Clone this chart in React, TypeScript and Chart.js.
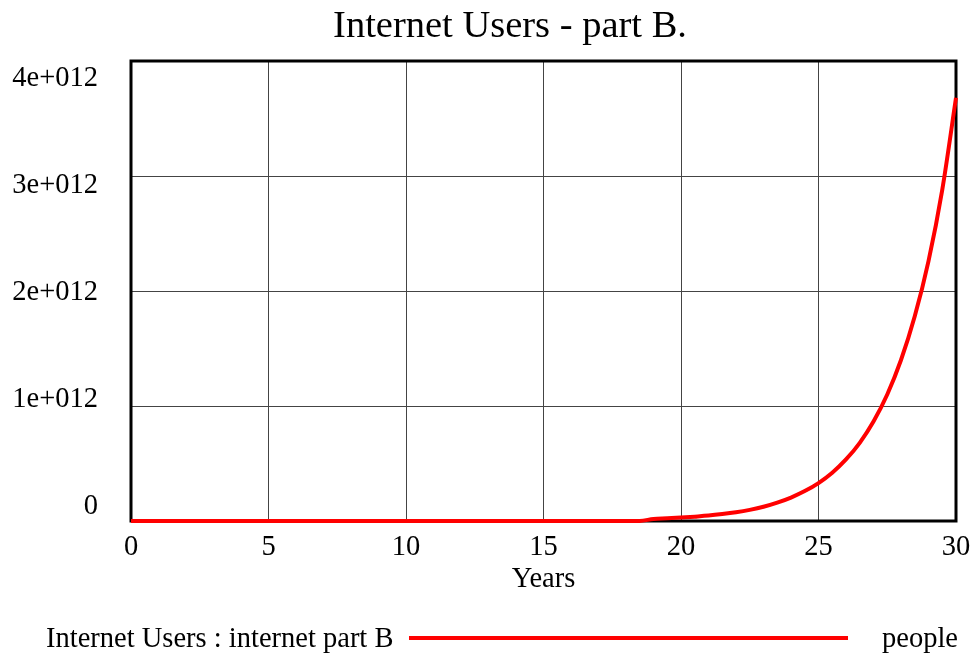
import React, { useEffect, useRef } from "react";
import { Chart, registerables } from "chart.js";

Chart.register(...registerables);

const TITLE = "Internet Users - part B.";
const X_TITLE = "Years";
const SERIES_LABEL = "Internet Users : internet part B";
const SERIES_UNIT = "people";

const years = [0, 5, 10, 15, 18, 18.5, 19, 19.5, 20, 20.5, 21, 21.5, 22, 22.5, 23, 23.5, 24, 24.5, 25, 25.5, 26, 26.5, 27, 27.5, 28, 28.5, 29, 29.5, 30];
const users = [
  0, 0, 0, 0, 0, 0,
  0.018e12, 0.023e12, 0.030e12, 0.038e12, 0.047e12, 0.060e12, 0.076e12, 0.097e12,
  0.124e12, 0.160e12, 0.204e12, 0.260e12, 0.330e12, 0.420e12, 0.535e12, 0.680e12,
  0.865e12, 1.10e12, 1.40e12, 1.78e12, 2.26e12, 2.88e12, 3.68e12,
];
const yTickLabels = ["0", "1e+012", "2e+012", "3e+012", "4e+012"];
const xTickLabels = ["0", "5", "10", "15", "20", "25", "30"];

const FONT = "'Liberation Serif', 'Times New Roman', serif";

export default function App() {
  const ref = useRef<HTMLCanvasElement | null>(null);

  useEffect(() => {
    const canvas = ref.current!;
    const overlay = {
      id: "overlay",
      beforeDatasetsDraw(chart: any) {
        const { ctx, chartArea } = chart;
        ctx.save();
        ctx.strokeStyle = "#000";
        ctx.lineWidth = 3;
        ctx.strokeRect(chartArea.left, chartArea.top, chartArea.right - chartArea.left, chartArea.bottom - chartArea.top);
        ctx.restore();
      },
      afterDraw(chart: any) {
        const { ctx, chartArea } = chart;
        const xs = chart.scales.x;
        ctx.save();
        ctx.fillStyle = "#000";
        // title
        ctx.font = `38.5px ${FONT}`;
        ctx.textAlign = "center";
        ctx.textBaseline = "alphabetic";
        ctx.fillText(TITLE, 510, 37);
        ctx.textBaseline = "middle";
        // y labels (spread evenly, Vensim style)
        ctx.font = `28.5px ${FONT}`;
        ctx.textAlign = "right";
        const h = chartArea.bottom - chartArea.top;
        const n = yTickLabels.length - 1;
        yTickLabels.forEach((t, i) => {
          const y = chartArea.top + 18 + ((n - i) / n) * (h - 32);
          ctx.fillText(t, chartArea.left - 33, y);
        });
        // x labels
        ctx.textAlign = "center";
        xTickLabels.forEach((t) => {
          ctx.fillText(t, xs.getPixelForValue(Number(t)), chartArea.bottom + 27);
        });
        ctx.fillText(X_TITLE, (chartArea.left + chartArea.right) / 2, chartArea.bottom + 59);
        // legend
        ctx.textAlign = "left";
        ctx.fillText(SERIES_LABEL, 46, 640);
        ctx.strokeStyle = "#ff0000";
        ctx.lineWidth = 4;
        ctx.beginPath();
        ctx.moveTo(409, 638);
        ctx.lineTo(848, 638);
        ctx.stroke();
        ctx.textAlign = "right";
        ctx.fillText(SERIES_UNIT, 958, 640);
        ctx.restore();
      },
    };

    const chart = new Chart(canvas, {
      type: "line",
      data: {
        datasets: [
          {
            label: SERIES_LABEL,
            data: years.map((x, i) => ({ x, y: users[i] })),
            borderColor: "#ff0000",
            borderWidth: 4,
            pointRadius: 0,
            cubicInterpolationMode: "monotone",
            clip: 6,
          },
        ],
      },
      options: {
        animation: false,
        responsive: false,
        maintainAspectRatio: false,
        layout: { padding: { left: 131, right: 21, top: 61, bottom: 136 } },
        plugins: { legend: { display: false }, title: { display: false }, tooltip: { enabled: false } },
        scales: {
          x: {
            type: "linear",
            min: 0,
            max: 30,
            ticks: { display: false, stepSize: 5 },
            grid: { color: "#444", lineWidth: 1, drawTicks: false },
            border: { display: false },
          },
          y: {
            type: "linear",
            min: 0,
            max: 4e12,
            ticks: { display: false, stepSize: 1e12 },
            grid: { color: "#444", lineWidth: 1, drawTicks: false },
            border: { display: false },
          },
        },
      },
      plugins: [overlay],
    });
    return () => chart.destroy();
  }, []);

  return (
    <div style={{ position: "fixed", left: 0, top: 0, width: 977, height: 657, background: "#fff" }}>
      <canvas ref={ref} width={977} height={657} style={{ width: 977, height: 657, display: "block" }} />
    </div>
  );
}
